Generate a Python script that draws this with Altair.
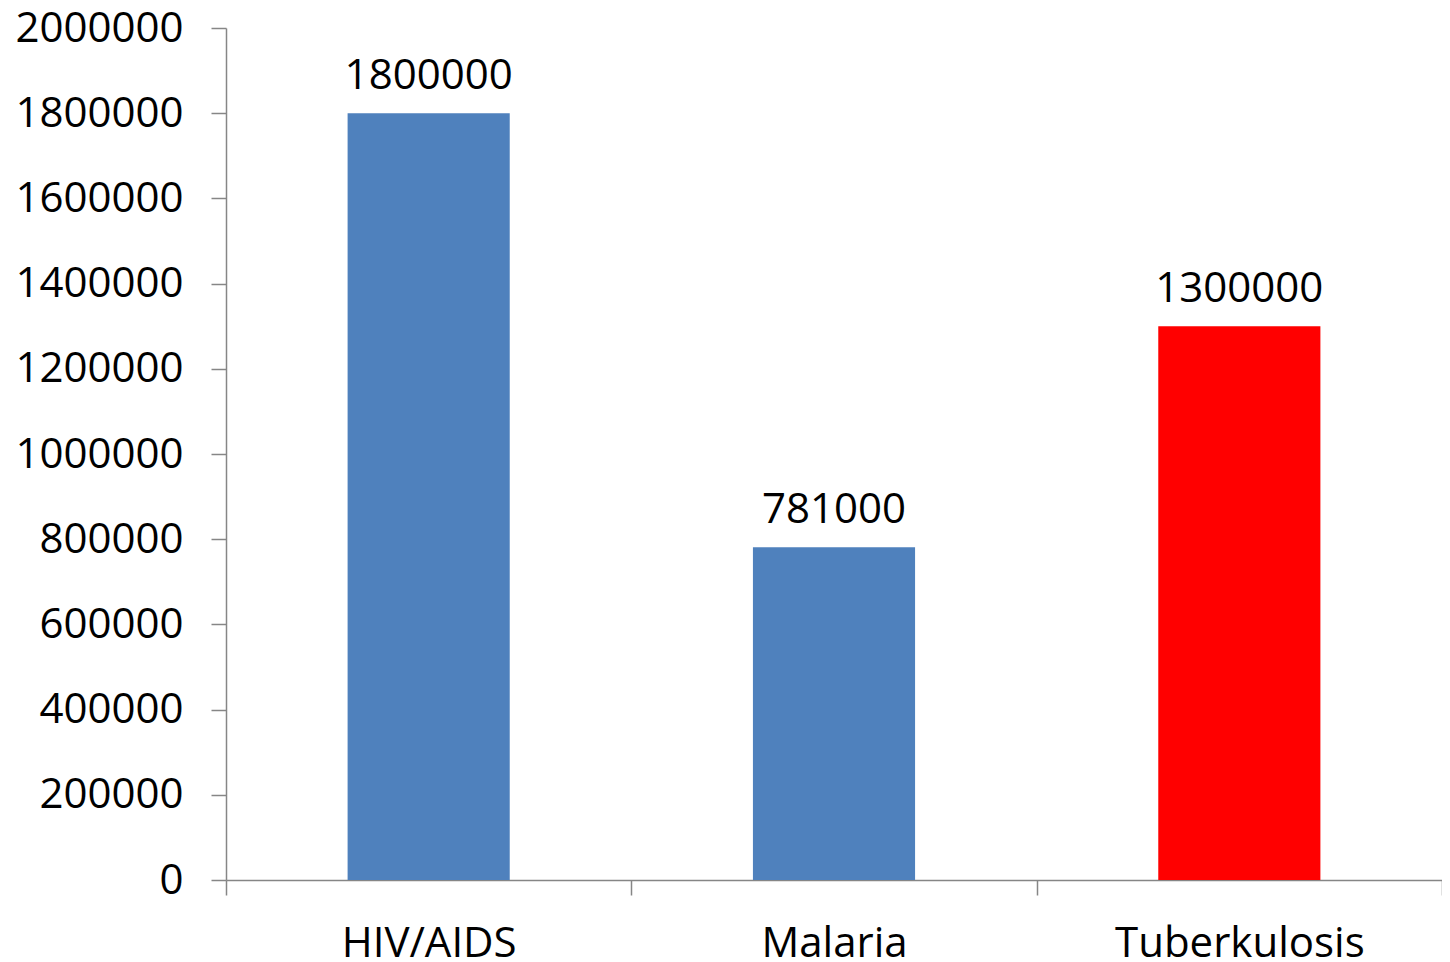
import altair as alt
import pandas as pd

categories = ["HIV/AIDS", "Malaria", "Tuberkulosis"]
values = [1800000, 781000, 1300000]
colors = ["#4F81BD", "#4F81BD", "#FF0000"]
y_ticks = [0, 200000, 400000, 600000, 800000, 1000000, 1200000, 1400000, 1600000, 1800000, 2000000]

df = pd.DataFrame({"cat": categories, "val": values, "col": colors})

FONT = "Open Sans"
GREY = "#868686"

x = alt.X("cat:N", sort=categories, title=None,
          scale=alt.Scale(paddingInner=0, paddingOuter=0),
          axis=alt.Axis(labelAngle=0, labelFont=FONT, labelFontSize=42, labelColor="#000000",
                        tickBand="extent", tickSize=15, tickColor=GREY, tickWidth=1.5,
                        domainColor=GREY, domainWidth=1.5, labelLimit=0, grid=False,
                        labelBaseline="alphabetic", labelPadding=61))
y = alt.Y("val:Q", title=None,
          scale=alt.Scale(domain=[0, 2000000], nice=False),
          axis=alt.Axis(values=y_ticks, format="d", labelFont=FONT, labelFontSize=42,
                        labelColor="#000000", tickSize=15, tickColor=GREY, tickWidth=1.5,
                        domainColor=GREY, domainWidth=1.5, grid=False, labelPadding=28))

bars = alt.Chart(df).mark_bar(width={"band": 0.4}).encode(
    x=x, y=y, color=alt.Color("col:N", scale=None)
)
labels = alt.Chart(df).mark_text(font=FONT, fontSize=42, color="#000000",
                                 baseline="alphabetic", dy=-24).encode(
    x=x, y=y, text=alt.Text("val:Q", format="d")
)

chart = alt.layer(bars, labels).properties(
    width=1216, height=852,
    autosize=alt.AutoSizeParams(type="none"),
    padding={"left": 218, "top": 20, "right": 0, "bottom": 82},
    background="#ffffff",
).configure_view(stroke="transparent", strokeWidth=0).configure_axis(grid=False, labelLimit=0)

chart.save("out.html", embed_options={"renderer": "svg", "actions": False})
